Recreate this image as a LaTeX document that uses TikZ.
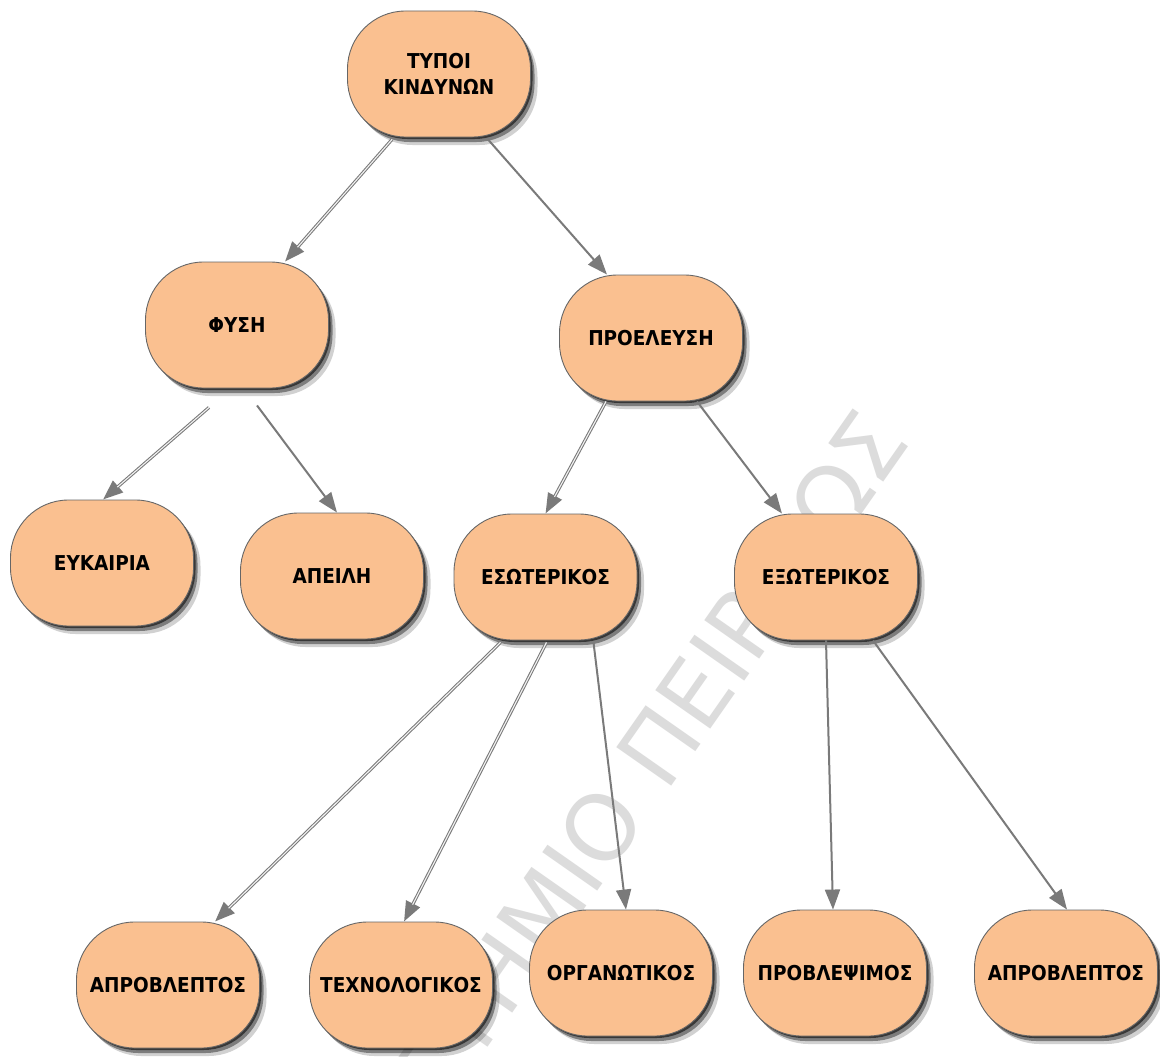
\documentclass[tikz,border=0pt]{standalone}
\usepackage{fontspec}
\usetikzlibrary{shadows,arrows.meta}
\IfFontExistsTF{DejaVu Sans Condensed}{\newfontfamily\nodefont{DejaVu Sans Condensed}}{\newfontfamily\nodefont[FakeStretch=0.9]{DejaVu Sans}}
\newfontfamily\wmfont{DejaVu Sans}
\definecolor{peach}{HTML}{FAC090}
\definecolor{bordergray}{HTML}{666666}
\definecolor{arrgray}{HTML}{7A7A7A}
\definecolor{wmgray}{HTML}{DCDCDC}
\tikzset{
  box/.style={draw=bordergray, line width=0.9pt, fill=peach, rounded corners=58pt,
    minimum width=183pt, minimum height=126pt, inner sep=0pt, align=center,
    font=\nodefont\bfseries\fontsize{20.5}{26}\selectfont, text=black,
    drop shadow={shadow xshift=2pt,shadow yshift=-2pt,opacity=.55,fill=black},
    drop shadow={shadow xshift=4pt,shadow yshift=-5pt,opacity=.4,fill=black},
    drop shadow={shadow xshift=7pt,shadow yshift=-8pt,opacity=.18,fill=black}},
  arr/.style={draw=arrgray, line width=2pt, -{Triangle[length=20pt,width=15pt]}},
  dbl/.style={arr, line width=3.2pt, postaction={draw=white!90!gray, line width=1.1pt, -, shorten >=19pt}},
  wm/.style={font=\wmfont\fontsize{92}{92}\selectfont, text=wmgray, inner sep=0pt}
}
\begin{document}
\begin{tikzpicture}[x=1pt,y=-1pt]
\useasboundingbox (0,0) rectangle (1160,1057);
\fill[white] (0,0) rectangle (1160,1057);
\begin{scope}
\clip (0,0) rectangle (1160,1057);
\node[wm, rotate=55, anchor=base east] (wmark) at (912,442) {ΠΑΝΕΠΙΣΤΗΜΙΟ ΠΕΙΡΑΙΩΣ};
\end{scope}

\node[box] (typoi) at (439,74) {ΤΥΠΟΙ\\ΚΙΝΔΥΝΩΝ};
\node[box] (fysi) at (237,325) {ΦΥΣΗ};
\node[box] (proel) at (651,338) {ΠΡΟΕΛΕΥΣΗ};
\node[box] (eyk) at (102,563) {ΕΥΚΑΙΡΙΑ};
\node[box] (apeili) at (332,576) {ΑΠΕΙΛΗ};
\node[box] (eso) at (545.5,577) {ΕΣΩΤΕΡΙΚΟΣ};
\node[box] (exo) at (826,577) {ΕΞΩΤΕΡΙΚΟΣ};
\node[box] (aprL) at (168,985) {ΑΠΡΟΒΛΕΠΤΟΣ};
\node[box] (tech) at (401,985) {ΤΕΧΝΟΛΟΓΙΚΟΣ};
\node[box] (org) at (621,973) {ΟΡΓΑΝΩΤΙΚΟΣ};
\node[box] (provl) at (835,973) {ΠΡΟΒΛΕΨΙΜΟΣ};
\node[box] (aprR) at (1066,973) {ΑΠΡΟΒΛΕΠΤΟΣ};

\draw[dbl] ([xshift=-47pt,yshift=-2pt]typoi.south) -- ([xshift=48pt]fysi.north);
\draw[arr] ([xshift=49pt,yshift=-2pt]typoi.south) -- ([xshift=-44pt]proel.north);
\draw[dbl] ([xshift=-28pt,yshift=-19pt]fysi.south) -- ([xshift=1pt]eyk.north);
\draw[arr] ([xshift=20pt,yshift=-17pt]fysi.south) -- ([xshift=5pt]apeili.north);
\draw[dbl] ([xshift=-45pt]proel.south) -- ([xshift=0pt]eso.north);
\draw[arr] ([xshift=46pt]proel.south) -- ([xshift=-44pt]exo.north);
\draw[dbl] ([xshift=-45pt,yshift=-2pt]eso.south) -- ([xshift=47pt]aprL.north);
\draw[dbl] ([xshift=1pt,yshift=-2pt]eso.south) -- ([xshift=3pt]tech.north);
\draw[arr] ([xshift=48pt,yshift=-2pt]eso.south) -- ([xshift=5pt]org.north);
\draw[arr] ([xshift=0pt]exo.south) -- ([xshift=-2pt]provl.north);
\draw[arr] ([xshift=47pt]exo.south) -- ([xshift=1pt]aprR.north);
\end{tikzpicture}
\end{document}
